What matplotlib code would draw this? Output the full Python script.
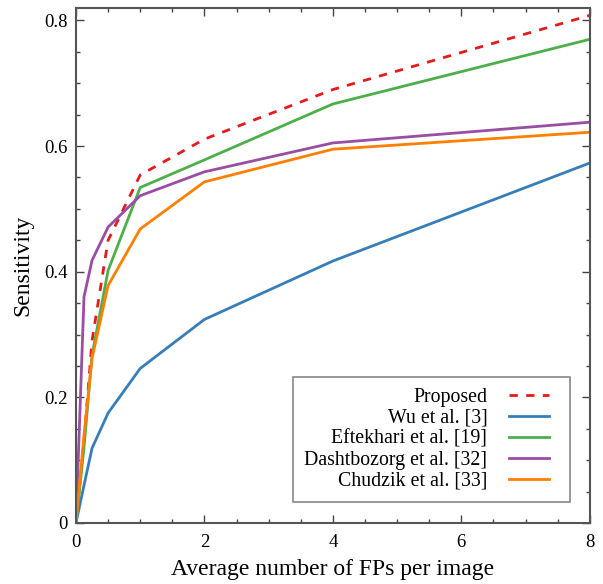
import matplotlib
matplotlib.use('Agg')
import matplotlib.pyplot as plt
from matplotlib.ticker import MultipleLocator, FuncFormatter
from matplotlib.legend_handler import HandlerLine2D

# FROC data
fps = [0, 0.125, 0.25, 0.5, 1, 2, 4, 8]
proposed = [0, 0.13, 0.29, 0.45, 0.554, 0.611, 0.69, 0.808]
wu = [0, 0.06, 0.119, 0.175, 0.246, 0.324, 0.417, 0.573]
eftekhari = [0, 0.12, 0.267, 0.402, 0.534, 0.578, 0.667, 0.770]
dashtbozorg = [0, 0.36, 0.418, 0.471, 0.521, 0.559, 0.605, 0.638]
chudzik = [0, 0.14, 0.262, 0.378, 0.468, 0.543, 0.595, 0.622]

labels = ['Proposed', 'Wu et al. [3]', 'Eftekhari et al. [19]',
          'Dashtbozorg et al. [32]', 'Chudzik et al. [33]']
colors = ['#e41a1c', '#377eb8', '#4daf4a', '#984ea3', '#ff7f00']


class ShortLine(HandlerLine2D):
    # legend line a bit shorter than its box, leaves space on the right
    def get_xdata(self, legend, xdescent, ydescent, width, height, fontsize):
        return [-xdescent, -xdescent + width - 7.2], [-xdescent + 0.5 * width]


plt.rcParams['font.family'] = ['Liberation Serif', 'DejaVu Serif']

fig = plt.figure(figsize=(6.03, 5.84), dpi=100)
ax = fig.add_axes([0.126, 0.1045, 0.852, 0.882])

ax.plot(fps, proposed, color=colors[0], lw=2, ls=(0, (3, 3)), label=labels[0])
ax.plot(fps, wu, color=colors[1], lw=2, label=labels[1])
ax.plot(fps, eftekhari, color=colors[2], lw=2, label=labels[2])
ax.plot(fps, dashtbozorg, color=colors[3], lw=2, label=labels[3])
ax.plot(fps, chudzik, color=colors[4], lw=2, label=labels[4])

ax.set_xlim(0, 8)
ax.set_ylim(0, 0.82)
ax.xaxis.set_major_locator(MultipleLocator(2))
ax.xaxis.set_minor_locator(MultipleLocator(0.5))
ax.yaxis.set_major_locator(MultipleLocator(0.2))
ax.yaxis.set_minor_locator(MultipleLocator(0.05))
ax.yaxis.set_major_formatter(FuncFormatter(lambda v, p: '%g' % round(v, 2)))
ax.tick_params(which='both', direction='in', top=True, right=True, labelsize=13.5,
               colors='#444444', labelcolor='black')
ax.tick_params(which='major', length=6, width=1)
ax.tick_params(which='minor', length=3, width=1)
ax.tick_params(axis='x', which='major', pad=8)
ax.tick_params(axis='y', which='major', pad=6)
for s in ax.spines.values():
    s.set_color('#555555')
    s.set_linewidth(1.5)

ax.set_xlabel('Average number of FPs per image', fontsize=17, labelpad=6)
ax.set_ylabel('Sensitivity', fontsize=17, labelpad=8)

leg = ax.legend(loc='lower right', bbox_to_anchor=(0.961, 0.041), markerfirst=False,
                fontsize=14.3, fancybox=False, edgecolor='#888888', framealpha=1,
                handlelength=2.5, handletextpad=1.1, labelspacing=0.1,
                borderpad=0.55, borderaxespad=0,
                handler_map={plt.Line2D: ShortLine()})
leg.get_frame().set_linewidth(1.2)

fig.savefig('out.png', dpi=100)
